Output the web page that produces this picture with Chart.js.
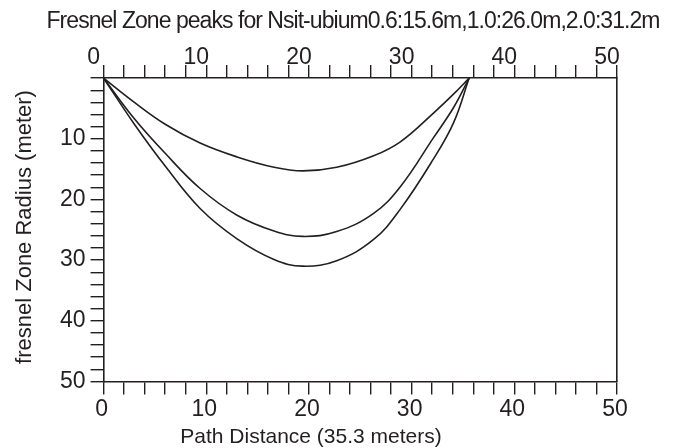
<!DOCTYPE html>
<html><head><meta charset="utf-8">
<script src="https://cdn.jsdelivr.net/npm/chart.js@4"></script>
<style>html,body{margin:0;padding:0;background:#fff}#wrap{width:673px;height:448px}</style>
</head><body><div id="wrap"><canvas id="c" width="673" height="448"></canvas></div>
<script>
const titleText = "Fresnel Zone peaks for Nsit-ubium0.6:15.6m,1.0:26.0m,2.0:31.2m";
const xTitle = "Path Distance (35.3 meters)";
const yTitle = "fresnel Zone Radius (meter)";
const distances = [0, 3, 6, 9.4, 13, 16.6, 19.4, 22.7, 26.3, 28.9, 32.1, 34.1, 35.6];
const zone06 = [0, 4.0, 7.6, 10.7, 13.0, 14.7, 15.3, 14.7, 12.8, 10.5, 5.8, 2.6, 0];
const zone10 = [0, 6.7, 12.4, 18.2, 22.6, 25.2, 26.1, 25.3, 22.3, 17.9, 9.9, 4.8, 0];
const zone20 = [0, 7.6, 14.5, 21.5, 26.5, 29.9, 31.0, 30.1, 26.6, 21.6, 13.4, 7.3, 0];
const xTickLabels = [0, 10, 20, 30, 40, 50];
const yTickLabels = [10, 20, 30, 40, 50];

const ink = '#231f20';
const FONT = '"Liberation Sans", Arial, sans-serif';

function pts(ys) { return distances.map((d, i) => ({x: d, y: ys[i]})); }
function ds(ys) {
  return {data: pts(ys), showLine: true, borderColor: ink, borderWidth: 1.6,
    pointRadius: 0, fill: false, tension: 0.4, xAxisID: 'x', yAxisID: 'y'};
}
function xAxis(pos, labelOffset, pad, lh) {
  return {
    type: 'linear', position: pos, min: 0, max: 50,
    ticks: {stepSize: 2, autoSkip: false, maxRotation: 0, minRotation: 0,
      labelOffset: labelOffset, padding: pad, color: ink,
      font: {family: FONT, size: 23, lineHeight: lh},
      callback: v => xTickLabels.includes(v) ? String(v) : ''},
    grid: {drawOnChartArea: false, drawTicks: true, tickLength: 13, color: ink, lineWidth: 1.4},
    border: {display: true, color: ink, width: 1.6}
  };
}

const noLabelClip = {
  id: 'noLabelClip',
  beforeDraw(chart) {
    const s = chart.scales.x2;
    if (s) s._computeLabelArea = () => undefined;
  }
};

const textPlugin = {
  id: 'texts',
  afterDraw(chart) {
    const ctx = chart.ctx;
    ctx.save();
    ctx.fillStyle = ink;
    ctx.textBaseline = 'middle';
    ctx.textAlign = 'center';
    ctx.font = '23px ' + FONT;
    const w = ctx.measureText(titleText).width;
    const target = 613;
    if ('letterSpacing' in ctx) {
      ctx.letterSpacing = ((target - w) / titleText.length).toFixed(3) + 'px';
      ctx.fillText(titleText, 353, 22);
      ctx.letterSpacing = '0px';
    } else {
      ctx.save(); ctx.translate(353, 22); ctx.scale(target / w, 1);
      ctx.fillText(titleText, 0, 0); ctx.restore();
    }
    ctx.font = '21px ' + FONT;
    ctx.fillText(xTitle, 311, 437);
    ctx.save();
    ctx.translate(25, 227);
    ctx.rotate(-Math.PI / 2);
    ctx.font = '22px ' + FONT;
    ctx.fillText(yTitle, 0, 0);
    ctx.restore();
    ctx.restore();
  }
};

new Chart(document.getElementById('c'), {
  type: 'scatter',
  data: {datasets: [ds(zone06), ds(zone10), ds(zone20)]},
  options: {
    responsive: false, animation: false,
    layout: {padding: {top: 51, bottom: 24, left: 55, right: 56}},
    plugins: {legend: {display: false}, tooltip: {enabled: false}, title: {display: false}},
    scales: {
      x: xAxis('bottom', -2, 1, 1.2),
      x2: xAxis('top', -10, -1, 0.7),
      y: {
        type: 'linear', position: 'left', reverse: true, min: 0, max: 50,
        ticks: {stepSize: 2, autoSkip: false, padding: 5, color: ink,
          font: {family: FONT, size: 23},
          callback: v => yTickLabels.includes(v) ? String(v) : ''},
        grid: {drawOnChartArea: false, drawTicks: true, tickLength: 13, color: ink, lineWidth: 1.4},
        border: {display: true, color: ink, width: 1.6}
      },
      y2: {
        type: 'linear', position: 'right', min: 0, max: 50,
        ticks: {display: false},
        grid: {display: false, drawTicks: false},
        border: {display: true, color: ink, width: 1.6}
      }
    }
  },
  plugins: [noLabelClip, textPlugin]
});
</script></body></html>
